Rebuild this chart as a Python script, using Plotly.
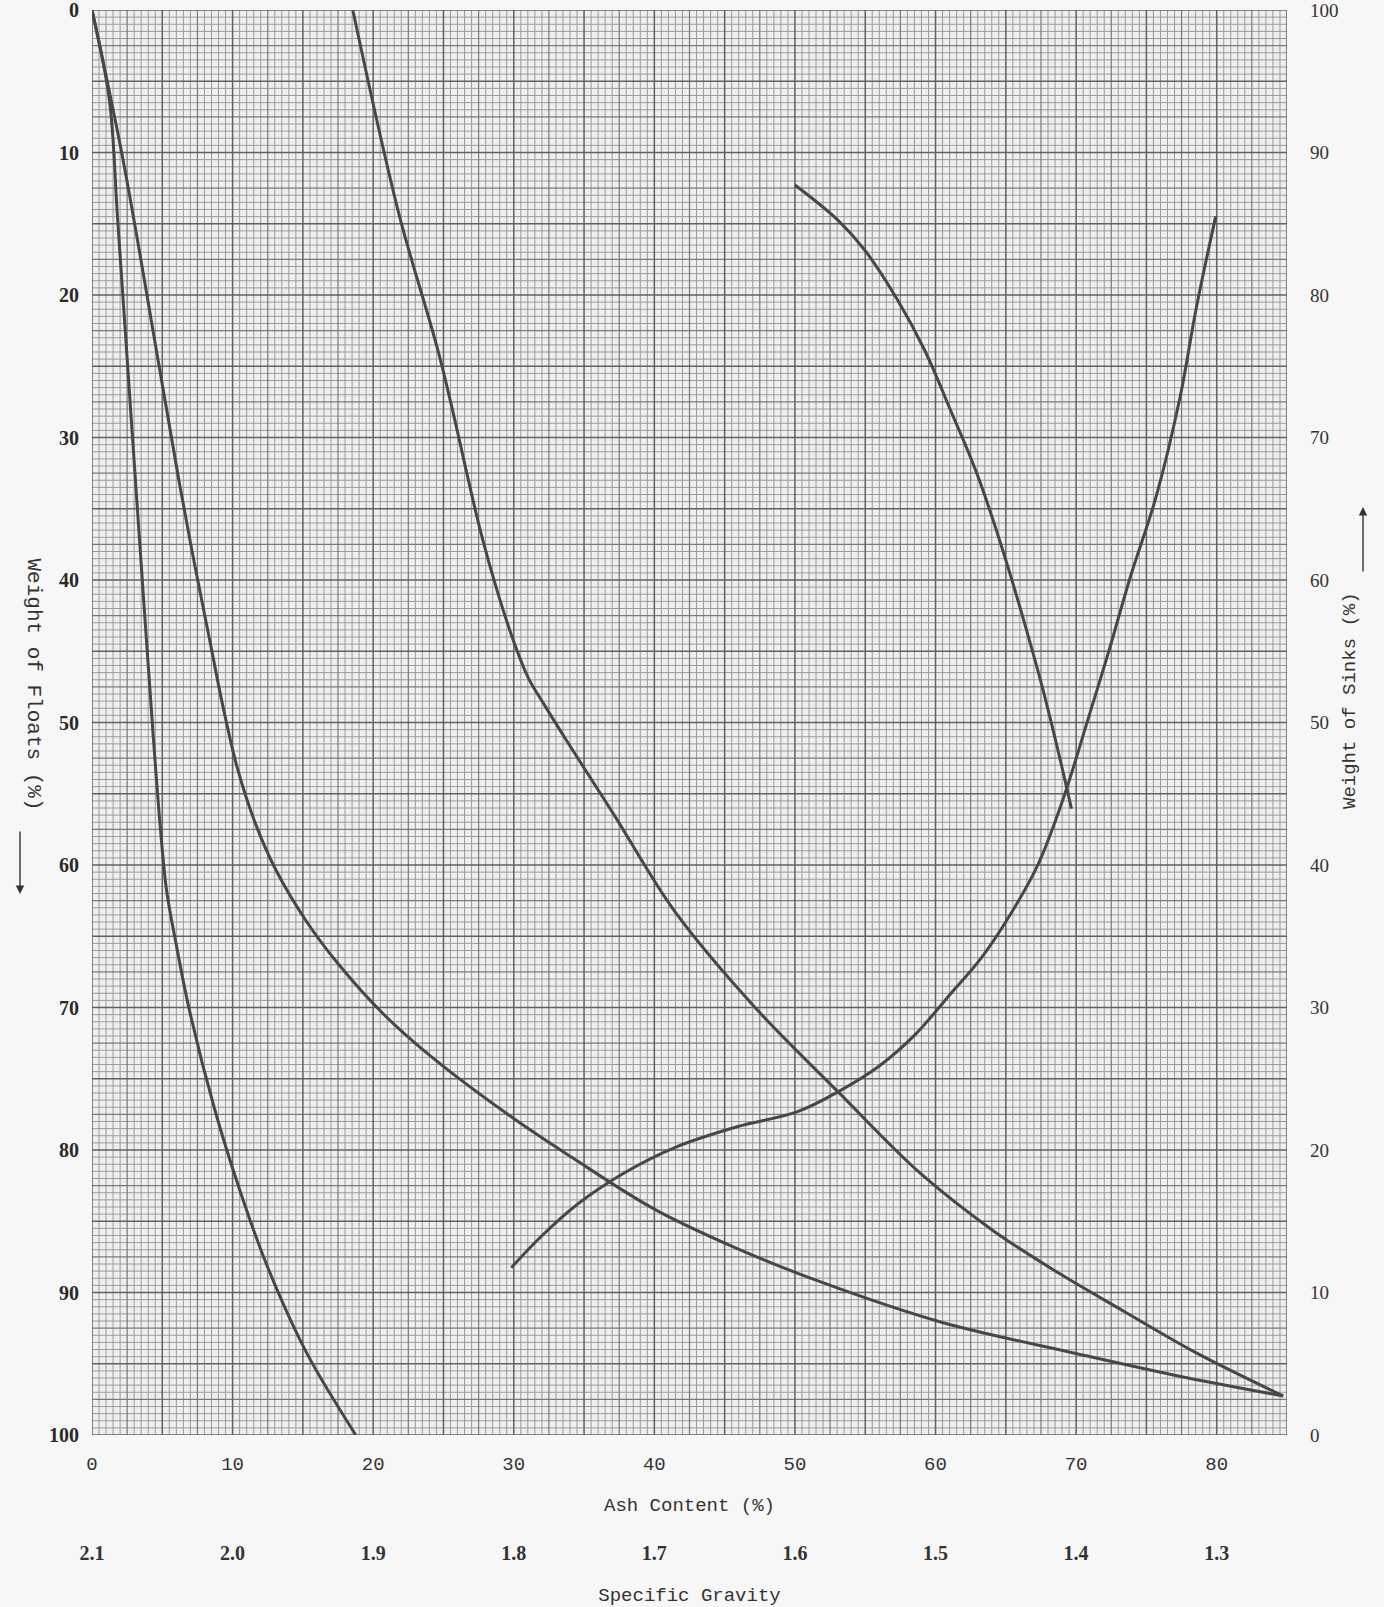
import plotly.graph_objects as go

# ---------------- data ----------------
# Curve A (steepest floats curve)
curve_a_ash = [0, 1.24, 1.82, 2.84, 3.64, 4.36, 4.87, 5.31, 5.96, 6.91, 8.73, 10.55, 12.51, 15.27, 18.76]
curve_a_floats = [0, 6.34, 14.63, 29.39, 40.92, 51.01, 57.49, 61.82, 65.42, 70.1, 77.16, 82.93, 88.26, 94.24, 100]

# Curve B
curve_b_ash = [0, 2.18, 4.80, 6.18, 7.27, 8.36, 9.31, 10.33, 11.64, 13.09, 15.27, 17.45, 20.73, 24.0,
               29.82, 34.18, 40.0, 45.82, 51.64, 60.36, 69.82, 77.09, 84.73]
curve_b_floats = [0, 10.37, 25.14, 33.0, 38.76, 44.16, 48.85, 53.17, 57.13, 60.37, 63.98, 66.86, 70.46, 73.34,
                  77.67, 80.55, 84.15, 86.89, 89.19, 92.07, 94.24, 95.82, 97.26]

# Curve C
curve_c_ash = [18.55, 21.82, 24.73, 27.64, 28.87, 30.1, 31.05, 32.2, 33.82, 37.09, 41.45, 47.05, 53.09, 58.91,
               64.0, 68.73, 73.45, 78.55, 84.73]
curve_c_floats = [0, 14.27, 24.35, 36.6, 40.92, 44.6, 46.9, 48.8, 51.37, 56.41, 63.26, 69.88, 75.94, 81.63,
                  85.59, 88.62, 91.35, 94.24, 97.26]

# Curve D (sinks, right axis)
curve_d_ash = [29.82, 32.0, 34.55, 37.82, 41.45, 45.82, 50.18, 53.09, 56.0, 58.55, 61.09, 63.27, 65.45,
               67.27, 69.09, 70.91, 72.36, 73.82, 75.71, 77.38, 78.55, 79.93]
curve_d_sinks = [11.74, 13.98, 16.21, 18.37, 20.17, 21.61, 22.69, 24.1, 25.9, 28.1, 30.98, 33.5, 36.74,
                 39.99, 44.67, 50.43, 55.12, 60.09, 65.92, 72.77, 79.11, 85.52]

# Curve E
curve_e_ash = [50.0, 53.05, 54.96, 57.3, 59.22, 61.06, 63.19, 67.27, 69.67]
curve_e_floats = [12.28, 14.74, 16.84, 20.35, 23.86, 28.07, 33.19, 46.33, 56.05]

ash_ticks = [0, 10, 20, 30, 40, 50, 60, 70, 80]
ash_labels = ["0", "10", "20", "30", "40", "50", "60", "70", "80"]
sg_ticks = [0, 10, 20, 30, 40, 50, 60, 70, 80]
sg_labels = ["2.1", "2.0", "1.9", "1.8", "1.7", "1.6", "1.5", "1.4", "1.3"]
weight_ticks = [0, 10, 20, 30, 40, 50, 60, 70, 80, 90, 100]

X_MAX = 85
Y_MAX = 100

# ---------------- figure ----------------
W, H = 1384, 1607
ML, MR, MT, MB = 92, 97, 10, 0
paper_h = H - MT - MB
plot_bottom_px = 1435
y_dom_low = (H - MB - plot_bottom_px) / paper_h

def py(px):
    return (H - MB - px) / paper_h

def pxx(px):
    return (px - ML) / (W - ML - MR)

curve_color = "#474747"
fig = go.Figure()

for xs, ys, ax in [
    (curve_a_ash, curve_a_floats, "y"),
    (curve_b_ash, curve_b_floats, "y"),
    (curve_c_ash, curve_c_floats, "y"),
    (curve_e_ash, curve_e_floats, "y"),
    (curve_d_ash, curve_d_sinks, "y2"),
]:
    fig.add_trace(go.Scatter(
        x=xs, y=ys, yaxis=ax, mode="lines",
        line=dict(color=curve_color, width=3, shape="spline", smoothing=1.0),
        showlegend=False, hoverinfo="skip"))

# trace that instantiates the specific-gravity axis
fig.add_trace(go.Scatter(x=sg_ticks, y=[None] * len(sg_ticks), xaxis="x2", yaxis="y",
                         mode="markers", showlegend=False, hoverinfo="skip"))

# ---------------- graph-paper grid ----------------
def grid_level(v):
    if abs(v / 5 - round(v / 5)) < 1e-9:
        return 0
    if abs(v / 2.5 - round(v / 2.5)) < 1e-9:
        return 1
    return 2

grid_styles = {0: ("#626262", 1.5), 1: ("#7a7a7a", 1.2), 2: ("#9b9b9b", 1.0)}
shapes = []
steps_x = [i * 0.5 for i in range(int(X_MAX * 2) + 1)]
steps_y = [i * 0.5 for i in range(int(Y_MAX * 2) + 1)]
for order in (2, 1, 0):
    c, w = grid_styles[order]
    for v in steps_x:
        if grid_level(v) == order:
            shapes.append(dict(type="line", xref="x", yref="y", x0=v, x1=v, y0=0, y1=Y_MAX,
                               line=dict(color=c, width=w), layer="below"))
    for v in steps_y:
        if grid_level(v) == order:
            shapes.append(dict(type="line", xref="x", yref="y", x0=0, x1=X_MAX, y0=v, y1=v,
                               line=dict(color=c, width=w), layer="below"))

tick_font_left = dict(family="Liberation Serif", size=20, color="#2a2a2a", weight="bold")
tick_font_right = dict(family="Liberation Serif", size=19, color="#333333")
mono = dict(family="Liberation Mono", size=19, color="#333333")

fig.update_layout(
    width=W, height=H,
    margin=dict(l=ML, r=MR, t=MT, b=MB, autoexpand=False),
    paper_bgcolor="#f7f7f7",
    plot_bgcolor="#efefef",
    shapes=shapes,
    xaxis=dict(
        range=[0, X_MAX], domain=[0, 1], anchor="y", automargin=False,
        tickmode="array", tickvals=ash_ticks, ticktext=ash_labels,
        showgrid=False, zeroline=False, showline=False, ticks="",
        tickfont=dict(family="Liberation Mono", size=19, color="#333333"),
        ticklabelstandoff=15,
        title=dict(text="Ash Content (%)", font=mono, standoff=22),
    ),
    xaxis2=dict(
        range=[0, X_MAX], overlaying="x", anchor="free", position=py(1539), side="bottom",
        automargin=False,
        tickmode="array", tickvals=sg_ticks, ticktext=sg_labels,
        showgrid=False, zeroline=False, showline=False, ticks="",
        tickfont=dict(family="Liberation Serif", size=20, color="#333333", weight="bold"),
        title=dict(text="Specific Gravity", font=mono, standoff=27),
    ),
    yaxis=dict(
        range=[Y_MAX, 0], domain=[y_dom_low, 1], anchor="x", automargin=False,
        tickmode="array", tickvals=weight_ticks,
        showgrid=False, zeroline=False, showline=False, ticks="",
        tickfont=tick_font_left, ticklabelstandoff=12,
        ticklabeloverflow="allow",
    ),
    yaxis2=dict(
        range=[0, Y_MAX], overlaying="y", side="right", anchor="x", automargin=False,
        tickmode="array", tickvals=weight_ticks,
        showgrid=False, zeroline=False, showline=False, ticks="",
        tickfont=tick_font_right, ticklabelstandoff=22,
        ticklabeloverflow="allow",
    ),
    annotations=[
        dict(text="Weight of Floats (%)", xref="paper", yref="paper",
             x=pxx(20), y=py(684), textangle=90, showarrow=False,
             font=dict(family="Liberation Mono", size=21, color="#333333")),
        dict(text="", xref="paper", yref="paper", x=pxx(20), y=py(894),
             ax=0, ay=-64, showarrow=True, arrowhead=2, arrowsize=1.2,
             arrowwidth=1.4, arrowcolor="#333333"),
        dict(text="Weight of Sinks (%)", xref="paper", yref="paper",
             x=pxx(1363), y=py(700), textangle=-90, showarrow=False,
             font=dict(family="Liberation Mono", size=19, color="#333333")),
        dict(text="", xref="paper", yref="paper", x=pxx(1363), y=py(507),
             ax=0, ay=66, showarrow=True, arrowhead=2, arrowsize=1.2,
             arrowwidth=1.4, arrowcolor="#333333"),
    ],
)

fig.write_html("out.html")
